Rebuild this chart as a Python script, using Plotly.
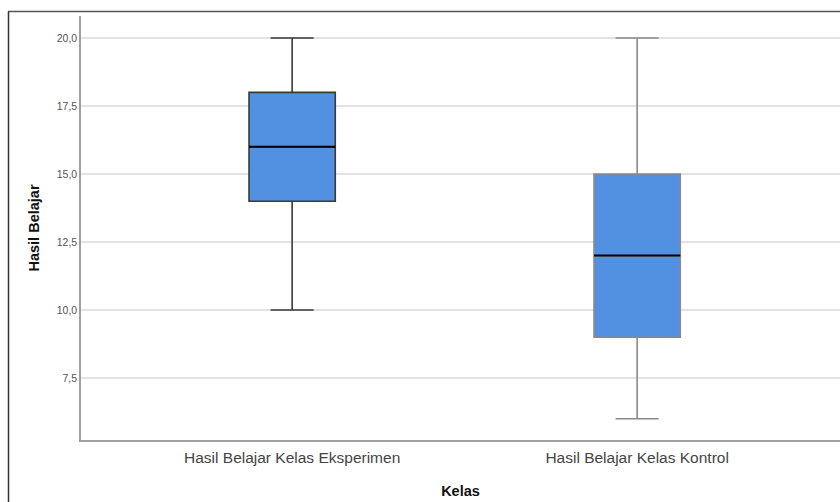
import plotly.graph_objects as go

categories = ["Hasil Belajar Kelas Eksperimen", "Hasil Belajar Kelas Kontrol"]
mins = [10, 6]
q1s = [14, 9]
medians = [16, 12]
q3s = [18, 15]
maxs = [20, 20]
y_ticks = [7.5, 10.0, 12.5, 15.0, 17.5, 20.0]

whisker_colors = ["#3a3a3a", "#8a8a8a"]
fill = "#5291E1"
box_w = 0.25

fig = go.Figure()
for i, cat in enumerate(categories):
    fig.add_trace(go.Box(
        x=[i], q1=[q1s[i]], median=[medians[i]], q3=[q3s[i]],
        lowerfence=[mins[i]], upperfence=[maxs[i]],
        width=box_w, whiskerwidth=0.5,
        fillcolor=fill, line=dict(color=whisker_colors[i], width=1.6),
        boxpoints=False, showlegend=False, hoverinfo="skip",
    ))
    fig.add_trace(go.Scatter(
        x=[i - box_w / 2, i + box_w / 2], y=[medians[i], medians[i]],
        mode="lines", line=dict(color="#000000", width=2),
        showlegend=False, hoverinfo="skip",
    ))

W, H = 840, 502
ml, mr, mt, mb = 81, 0, 16, 62
pw = W - ml - mr
ph = H - mt - mb

def px_x(px):
    return (px - ml) / pw

def px_y(py):
    return (H - mb - py) / ph

fig.add_shape(type="line", xref="paper", yref="paper",
              x0=px_x(8), x1=px_x(840), y0=px_y(11.5), y1=px_y(11.5),
              line=dict(color="#555555", width=1.5))
fig.add_shape(type="line", xref="paper", yref="paper",
              x0=px_x(8.5), x1=px_x(8.5), y0=px_y(11.5), y1=px_y(510),
              line=dict(color="#333333", width=1.5))

fig.update_layout(
    width=W, height=H,
    margin=dict(l=ml, r=mr, t=mt, b=mb),
    plot_bgcolor="white", paper_bgcolor="white",
    separators=",.",
    font=dict(family="Liberation Sans, Arial, sans-serif", color="#333333"),
    xaxis=dict(
        range=[-0.612, 1.588],
        tickvals=[0, 1], ticktext=categories,
        showgrid=False, zeroline=False,
        showline=True, linecolor="#a0a0a0", linewidth=1.5,
        ticks="", tickfont=dict(size=15.5, color="#444444"),
        ticklabelstandoff=3,
        title=dict(text="<b>Kelas</b>", font=dict(size=14.5, color="#111111"), standoff=21),
    ),
    yaxis=dict(
        range=[5.22, 20.81],
        tickvals=y_ticks, tickformat=".1f",
        showgrid=True, gridcolor="#e2e2e2", gridwidth=1.5,
        zeroline=False,
        showline=True, linecolor="#a0a0a0", linewidth=1.5,
        ticks="", tickfont=dict(size=10.5, color="#555555"),
        title=dict(text="<b>Hasil Belajar</b>", font=dict(size=14.5, color="#111111"), standoff=14),
    ),
)

fig.write_html("out.html", config={"displayModeBar": False},
               post_script="document.body.style.margin='0';document.body.style.padding='0';")
